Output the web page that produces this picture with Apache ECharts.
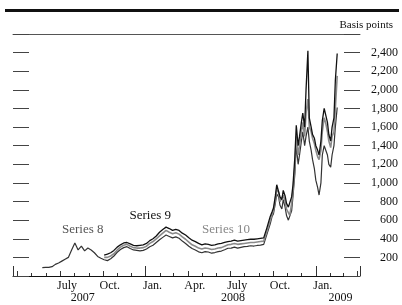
<!DOCTYPE html>
<html>
<head>
<meta charset="utf-8">
<script src="https://cdn.jsdelivr.net/npm/echarts@6/dist/echarts.min.js"></script>
<style>
  html, body { margin: 0; padding: 0; background: #fff; }
  #chart { width: 402px; height: 305px; }
</style>
</head>
<body>
<div id="chart"></div>
<script>
;(function () {
  const dates = [
    '2007-05-24', '2007-05-31', '2007-06-07', '2007-06-14', '2007-06-21', '2007-06-28',
    '2007-07-05', '2007-07-12', '2007-07-19', '2007-07-26', '2007-08-02', '2007-08-09',
    '2007-08-16', '2007-08-23', '2007-08-30', '2007-09-06', '2007-09-13', '2007-09-20',
    '2007-09-27', '2007-10-04', '2007-10-11', '2007-10-18', '2007-10-25', '2007-11-01',
    '2007-11-08', '2007-11-15', '2007-11-22', '2007-11-29', '2007-12-06', '2007-12-13',
    '2007-12-20', '2007-12-27', '2008-01-03', '2008-01-10', '2008-01-17', '2008-01-24',
    '2008-01-31', '2008-02-07', '2008-02-14', '2008-02-21', '2008-02-28', '2008-03-06',
    '2008-03-13', '2008-03-20', '2008-03-27', '2008-04-03', '2008-04-10', '2008-04-17',
    '2008-04-24', '2008-05-01', '2008-05-08', '2008-05-15', '2008-05-22', '2008-05-29',
    '2008-06-05', '2008-06-12', '2008-06-19', '2008-06-26', '2008-07-03', '2008-07-10',
    '2008-07-17', '2008-07-24', '2008-07-31', '2008-08-07', '2008-08-14', '2008-08-21',
    '2008-08-28', '2008-09-04', '2008-09-11', '2008-09-18', '2008-09-25', '2008-09-29',
    '2008-10-02', '2008-10-06', '2008-10-09', '2008-10-13', '2008-10-16', '2008-10-20',
    '2008-10-23', '2008-10-27', '2008-10-30', '2008-11-03', '2008-11-06', '2008-11-10',
    '2008-11-13', '2008-11-17', '2008-11-20', '2008-11-24', '2008-11-27', '2008-12-01',
    '2008-12-04', '2008-12-08', '2008-12-11', '2008-12-15', '2008-12-18', '2008-12-22',
    '2008-12-25', '2008-12-29', '2009-01-01', '2009-01-05', '2009-01-08', '2009-01-12',
    '2009-01-15', '2009-01-19', '2009-01-22', '2009-01-26', '2009-01-29', '2009-02-02',
    '2009-02-05', '2009-02-09', '2009-02-12', '2009-02-16',
  ]

  const series8 = [
    90, 92, 92, 100, 125, 140, 160, 180, 200, 280, 355, 280,
    320, 270, 300, 280, 250, 210, 190, 175, 165, 185, 215, 255,
    285, 305, 315, 295, 280, 275, 270, 275, 290, 315, 330, 360,
    390, 415, 440, 425, 410, 420, 405, 375, 350, 320, 295, 280,
    260, 250, 262, 258, 245, 252, 262, 268, 282, 298, 300, 310,
    300, 308, 315, 318, 325, 322, 328, 332, 340, 450, 560, 640,
    670, 780, 880, 850, 760, 720, 820, 740, 650, 600, 580, 700,
    860, 1100, 1400, 1200, 1300, 1450, 1550, 1400, 1500, 1600, 1450, 1350,
    1250, 1150, 1030, 950, 870, 1000, 1300, 1400, 1380, 1300, 1200, 1170,
    1300, 1400, 1600, 1810,
  ]

  const series9 = [
    null, null, null, null, null, null, null, null, null, null, null, null,
    null, null, null, null, null, null, null, 225, 235, 250, 275, 310,
    335, 355, 360, 345, 330, 325, 330, 335, 350, 380, 400, 430,
    470, 500, 525, 510, 490, 500, 490, 460, 440, 410, 385, 370,
    350, 335, 345, 340, 330, 335, 345, 350, 360, 370, 375, 385,
    375, 380, 385, 390, 395, 395, 400, 405, 410, 520, 640, 690,
    730, 860, 980, 960, 850, 820, 920, 860, 780, 740, 720, 850,
    980, 1280, 1620, 1400, 1500, 1650, 1750, 1600, 2000, 2420, 1700, 1600,
    1520, 1480, 1400, 1350, 1300, 1450, 1670, 1800, 1780, 1650, 1520, 1450,
    1600, 1700, 2100, 2390,
  ]

  const series10 = [
    null, null, null, null, null, null, null, null, null, null, null, null,
    null, null, null, null, null, null, null, 200, 200, 215, 240, 280,
    310, 330, 340, 320, 305, 300, 300, 305, 320, 350, 370, 400,
    430, 460, 490, 470, 455, 465, 450, 420, 395, 365, 335, 320,
    300, 290, 300, 295, 285, 290, 300, 305, 320, 335, 340, 350,
    340, 345, 350, 355, 360, 360, 365, 370, 375, 480, 600, 660,
    700, 820, 930, 900, 800, 780, 870, 800, 720, 680, 650, 780,
    920, 1180, 1500, 1300, 1400, 1550, 1650, 1500, 1750, 1900, 1600, 1550,
    1480, 1420, 1350, 1280, 1250, 1350, 1550, 1700, 1650, 1550, 1450, 1380,
    1500, 1550, 1800, 2150,
  ]

  const monthNames = { 0: 'Jan.', 3: 'Apr.', 6: 'July', 9: 'Oct.' }
  const yearLabels = [
    { date: '2007-08-19', text: '2007' },
    { date: '2008-07-07', text: '2008' },
    { date: '2009-02-23', text: '2009' },
  ]

  const serif = "'Liberation Serif', 'DejaVu Serif', serif"
  const DAY = 86400000
  const EPOCH = Date.UTC(2007, 0, 1)

  // x axis works in days since 2007-01-01
  const day = (y, m, d) => (Date.UTC(y, m, d) - EPOCH) / DAY
  const dayOf = (s) => {
    const [y, m, d] = s.split('-').map(Number)
    return day(y, m - 1, d)
  }
  const monthOf = (v) => new Date(EPOCH + v * DAY).getUTCMonth()

  const axisMin = day(2007, 2, 22)
  const axisMax = day(2009, 3, 6)
  const firstLabel = day(2007, 6, 1)

  const monthTicks = []
  const quarterTicks = []
  const janTicks = [axisMin, axisMax]
  const monthLabels = []
  for (let y = 2007; y <= 2009; y++) {
    for (let m = 0; m < 12; m++) {
      const t = day(y, m, 1)
      if (t < axisMin || t > axisMax) continue
      monthTicks.push(t)
      if (m === 0) janTicks.push(t)
      else if (m % 3 === 0) quarterTicks.push(t)
      const mid = day(y, m, 16)
      if (m % 3 === 0 && mid > firstLabel && mid < axisMax) monthLabels.push(mid)
    }
  }

  const tickColor = '#333'

  const baseX = {
    type: 'value',
    min: axisMin,
    max: axisMax,
    position: 'bottom',
    offset: 0,
    splitLine: { show: false },
  }

  function tickAxis(values, length) {
    return {
      ...baseX,
      axisLine: { show: false },
      axisTick: { show: true, inside: true, length, customValues: values, lineStyle: { color: tickColor, width: 1 } },
      axisLabel: { show: false },
    }
  }

  function lineSeries(name, values, color, width, coord, labelColor) {
    return {
      name,
      type: 'line',
      xAxisIndex: 0,
      yAxisIndex: 0,
      showSymbol: false,
      symbol: 'none',
      lineStyle: { color, width },
      data: dates.map((d, i) => [dayOf(d), values[i]]),
      markPoint: {
        symbol: 'circle',
        symbolSize: 0,
        label: { show: true, position: 'inside', formatter: name, fontFamily: serif, fontSize: 13, color: labelColor },
        data: [{ coord: [dayOf(coord[0]), coord[1]] }],
      },
    }
  }

  const chart = echarts.init(document.getElementById('chart'), null, { renderer: 'canvas' })
  chart.setOption({
    animation: false,
    backgroundColor: '#fff',
    title: {
      text: 'Basis points',
      right: 4,
      top: 15,
      textStyle: { fontFamily: serif, fontSize: 11, fontWeight: 'normal', color: '#111' },
    },
    graphic: [
      { type: 'rect', shape: { x: 5, y: 9, width: 394, height: 3 }, style: { fill: '#111' } },
    ],
    grid: { left: 13, right: 42, top: 34, bottom: 29, containLabel: false, outerBoundsMode: 'none' },
    xAxis: [
      {
        ...baseX,
        axisLine: { show: true, lineStyle: { color: '#111', width: 1 } },
        axisTick: { show: true, inside: true, length: 3, customValues: monthTicks, lineStyle: { color: tickColor } },
        axisLabel: {
          show: true,
          customValues: monthLabels,
          margin: 4,
          fontFamily: serif,
          fontSize: 12,
          color: '#111',
          formatter: (v) => monthNames[monthOf(v)] || '',
        },
      },
      tickAxis(quarterTicks, 5),
      tickAxis(janTicks, 10),
      {
        ...baseX,
        axisLine: { show: false },
        axisTick: { show: false },
        axisLabel: {
          show: true,
          customValues: yearLabels.map((y) => dayOf(y.date)),
          margin: 16,
          fontFamily: serif,
          fontSize: 12,
          color: '#111',
          formatter: (v) => (yearLabels.find((y) => dayOf(y.date) === v) || {}).text || '',
        },
      },
      {
        ...baseX,
        position: 'top',
        axisLine: { show: true, lineStyle: { color: '#555', width: 1 } },
        axisTick: { show: false },
        axisLabel: { show: false },
      },
    ],
    yAxis: [
      {
        type: 'value',
        min: 0,
        max: 2600,
        interval: 200,
        position: 'right',
        axisLine: { show: false },
        splitLine: { show: false },
        axisTick: { show: true, inside: true, length: 16, lineStyle: { color: '#444' } },
        axisLabel: {
          margin: 38,
          align: 'right',
          fontFamily: serif,
          fontSize: 12,
          color: '#111',
          formatter: (v) => (v === 0 || v === 2600 ? '' : v.toLocaleString('en-US')),
        },
      },
      {
        type: 'value',
        min: 0,
        max: 2600,
        interval: 200,
        position: 'left',
        axisLine: { show: false },
        splitLine: { show: false },
        axisTick: { show: true, inside: true, length: 16, lineStyle: { color: '#444' } },
        axisLabel: { show: false },
      },
    ],
    series: [
      lineSeries('Series 8', series8, '#333', 1.2, ['2007-08-19', 501], '#555'),
      lineSeries('Series 10', series10, '#8a8a8a', 1.6, ['2008-06-22', 501], '#888'),
      lineSeries('Series 9', series9, '#111', 1.3, ['2008-01-11', 651], '#111'),
    ],
  })
})()
</script>
</body>
</html>
